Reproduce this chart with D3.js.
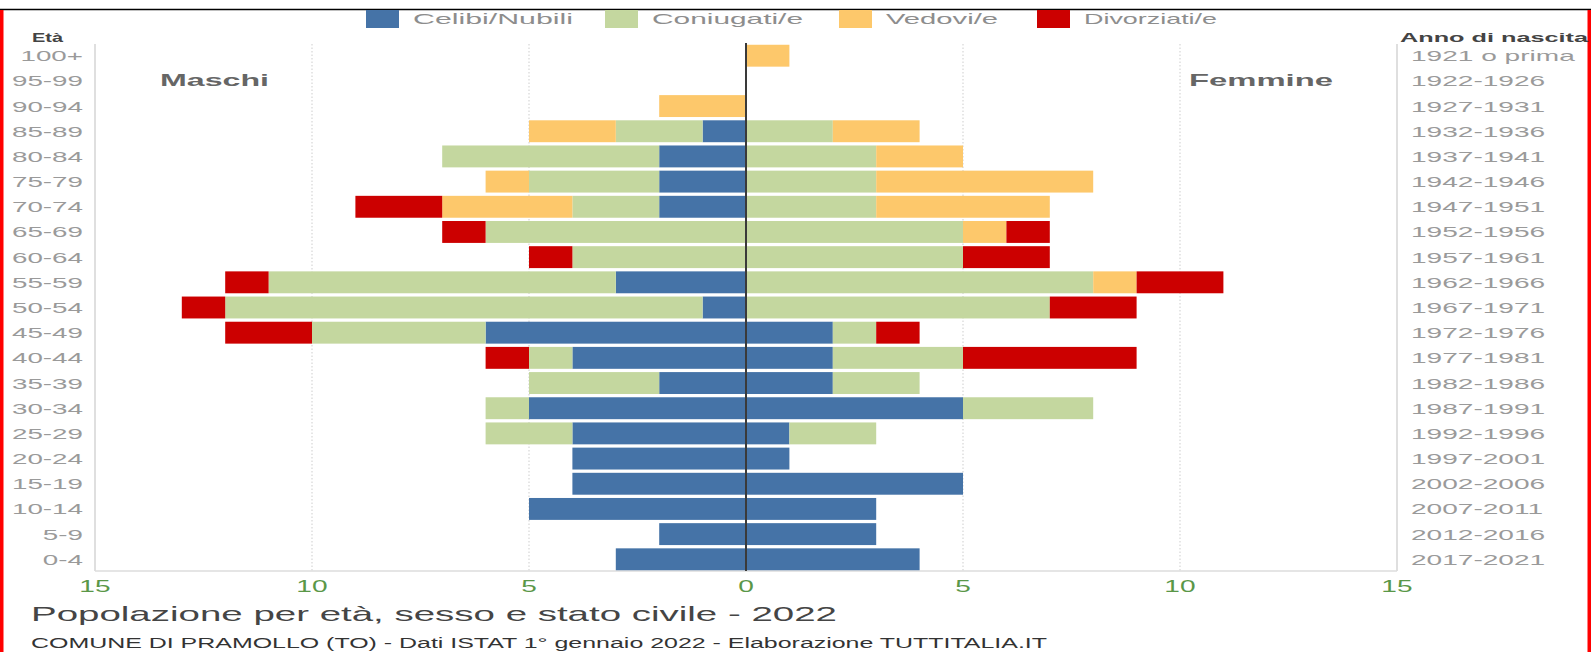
<!DOCTYPE html>
<html>
<head>
<meta charset="utf-8">
<script src="https://cdn.jsdelivr.net/npm/d3@7"></script>
<style>
  html, body { margin: 0; padding: 0; background: #fff; }
  svg { display: block; font-family: "Liberation Sans", Arial, sans-serif; }
</style>
</head>
<body>
<svg id="chart" width="1591" height="652"></svg>
<script>
// classi di età, dall'alto verso il basso
let ages = ['100+', '95-99', '90-94', '85-89', '80-84', '75-79', '70-74', '65-69', '60-64', '55-59', '50-54',
    '45-49', '40-44', '35-39', '30-34', '25-29', '20-24', '15-19', '10-14', '5-9', '0-4'];
let years = ['1921 o prima', '1922-1926', '1927-1931', '1932-1936', '1937-1941', '1942-1946', '1947-1951',
    '1952-1956', '1957-1961', '1962-1966', '1967-1971', '1972-1976', '1977-1981', '1982-1986', '1987-1991',
    '1992-1996', '1997-2001', '2002-2006', '2007-2011', '2012-2016', '2017-2021'];

// maschi
let m_celibi     = [0, 0, 0, 1, 2, 2, 2, 0, 0, 3, 1, 6, 4, 2, 5, 4, 4, 4, 5, 2, 3];
let m_coniugati  = [0, 0, 0, 2, 5, 3, 2, 6, 4, 8, 11, 4, 1, 3, 1, 2, 0, 0, 0, 0, 0];
let m_vedovi     = [0, 0, 2, 2, 0, 1, 3, 0, 0, 0, 0, 0, 0, 0, 0, 0, 0, 0, 0, 0, 0];
let m_divorziati = [0, 0, 0, 0, 0, 0, 2, 1, 1, 1, 1, 2, 1, 0, 0, 0, 0, 0, 0, 0, 0];
// femmine
let f_nubili     = [0, 0, 0, 0, 0, 0, 0, 0, 0, 0, 0, 2, 2, 2, 5, 1, 1, 5, 3, 3, 4];
let f_coniugate  = [0, 0, 0, 2, 3, 3, 3, 5, 5, 8, 7, 1, 3, 2, 3, 2, 0, 0, 0, 0, 0];
let f_vedove     = [1, 0, 0, 2, 2, 5, 4, 1, 0, 1, 0, 0, 0, 0, 0, 0, 0, 0, 0, 0, 0];
let f_divorziate = [0, 0, 0, 0, 0, 0, 0, 1, 2, 2, 2, 1, 4, 0, 0, 0, 0, 0, 0, 0, 0];

let legend_labels = ['Celibi/Nubili', 'Coniugati/e', 'Vedovi/e', 'Divorziati/e'];
let colors = ['#4573a7', '#c4d79f', '#fdc86b', '#cc0000'];
let x_ticks = [-15, -10, -5, 0, 5, 10, 15];

let svg = d3.select('#chart');

// il grafico originale è stirato in orizzontale: allargo i testi
function stretch(sel, f) {
    sel.each(function () {
        let w = this.getComputedTextLength();
        d3.select(this).attr('textLength', w * f).attr('lengthAdjust', 'spacingAndGlyphs');
    });
}
function fitWidth(sel, w) {
    sel.attr('textLength', w).attr('lengthAdjust', 'spacingAndGlyphs');
}

let plot_top = 44, plot_bottom = 571;
let x = d3.scaleLinear().domain([-15, 15]).range([95, 1397]);
let y = d3.scaleBand().domain(ages).range([plot_top, plot_bottom]).paddingInner(0.13).paddingOuter(0.03);

// cornice
svg.append('line').attr('x1', 0).attr('x2', 1591).attr('y1', 9.5).attr('y2', 9.5)
    .attr('stroke', '#000').attr('stroke-width', 1.5);
svg.append('rect').attr('x', 0).attr('y', 10).attr('width', 3.5).attr('height', 642).attr('fill', '#ff0000');
svg.append('rect').attr('x', 1587.5).attr('y', 10).attr('width', 3.5).attr('height', 642).attr('fill', '#ff0000');

// griglia
svg.append('g').selectAll('line')
    .data(x_ticks.filter(d => Math.abs(d) != 15 && d != 0))
    .enter().append('line')
    .attr('x1', d => x(d)).attr('x2', d => x(d))
    .attr('y1', plot_top).attr('y2', plot_bottom)
    .attr('stroke', '#d6d6d6').attr('stroke-width', 1.2).attr('stroke-dasharray', '1.5,2');
svg.append('g').selectAll('line')
    .data([-15, 15])
    .enter().append('line')
    .attr('x1', d => x(d)).attr('x2', d => x(d))
    .attr('y1', plot_top).attr('y2', plot_bottom)
    .attr('stroke', '#d4d4d4').attr('stroke-width', 1.5);
svg.append('line').attr('x1', x(-15)).attr('x2', x(15)).attr('y1', plot_bottom).attr('y2', plot_bottom)
    .attr('stroke', '#dcdcdc').attr('stroke-width', 1.5);

// barre
let rows = ages.map((a, i) => ({
    age: a,
    m0: m_celibi[i], m1: m_coniugati[i], m2: m_vedovi[i], m3: m_divorziati[i],
    f0: f_nubili[i], f1: f_coniugate[i], f2: f_vedove[i], f3: f_divorziate[i]
}));
let m_stack = d3.stack().keys(['m0', 'm1', 'm2', 'm3'])(rows);
let f_stack = d3.stack().keys(['f0', 'f1', 'f2', 'f3'])(rows);

[m_stack, f_stack].forEach((stack, side) => {
    let sign = side == 0 ? -1 : 1;
    svg.append('g')
        .selectAll('g')
        .data(stack)
        .enter().append('g')
        .attr('fill', (d, i) => colors[i])
        .selectAll('rect')
        .data(d => d.filter(p => p[1] > p[0]))
        .enter().append('rect')
        .attr('x', d => Math.min(x(sign * d[0]), x(sign * d[1])))
        .attr('width', d => Math.abs(x(sign * d[1]) - x(sign * d[0])))
        .attr('y', d => y(d.data.age))
        .attr('height', y.bandwidth());
});

// asse centrale
svg.append('line').attr('x1', x(0)).attr('x2', x(0)).attr('y1', plot_top - 1).attr('y2', plot_bottom)
    .attr('stroke', '#3a3a3a').attr('stroke-width', 2);

// etichette età e anni
let ageLab = svg.append('g').selectAll('text')
    .data(ages).enter().append('text')
    .attr('x', 83).attr('y', d => y(d) + y.bandwidth() / 2 + 5.5)
    .attr('text-anchor', 'end')
    .attr('font-size', 15).attr('fill', '#9a9a9a')
    .text(d => d);
stretch(ageLab, 1.85);

let yearLab = svg.append('g').selectAll('text')
    .data(years).enter().append('text')
    .attr('x', 1411).attr('y', (d, i) => y(ages[i]) + y.bandwidth() / 2 + 5.5)
    .attr('font-size', 15).attr('fill', '#9a9a9a')
    .text(d => d);
stretch(yearLab, 1.87);

let eta = svg.append('text').attr('x', 32).attr('y', 42)
    .attr('font-size', 13).attr('font-weight', 'bold').attr('fill', '#444').text('Età');
fitWidth(eta, 31);
let anno = svg.append('text').attr('x', 1400).attr('y', 42)
    .attr('font-size', 13).attr('font-weight', 'bold').attr('fill', '#444').text('Anno di nascita');
fitWidth(anno, 188);

// Maschi / Femmine
fitWidth(svg.append('text').attr('x', 160).attr('y', 86)
    .attr('font-size', 17).attr('font-weight', 'bold').attr('fill', '#666').text('Maschi'), 109);
fitWidth(svg.append('text').attr('x', 1189).attr('y', 86)
    .attr('font-size', 17).attr('font-weight', 'bold').attr('fill', '#666').text('Femmine'), 144);

// asse x
let xTick = svg.append('g').selectAll('text')
    .data(x_ticks).enter().append('text')
    .attr('x', d => x(d)).attr('y', plot_bottom + 21)
    .attr('text-anchor', 'middle')
    .attr('font-size', 17).attr('fill', '#5a9748')
    .text(d => Math.abs(d));
stretch(xTick, 1.65);

// legenda
let legend_x = [366, 605, 839, 1037];
let legend_w = [160, 151, 112, 133];
let legend = svg.append('g').selectAll('g')
    .data(legend_labels).enter().append('g');
legend.append('rect')
    .attr('x', (d, i) => legend_x[i]).attr('y', 10)
    .attr('width', 33).attr('height', 18)
    .attr('fill', (d, i) => colors[i]);
legend.append('text')
    .attr('x', (d, i) => legend_x[i] + 47).attr('y', 24)
    .attr('font-size', 15).attr('fill', '#8d8d8d')
    .text(d => d)
    .each(function (d, i) { fitWidth(d3.select(this), legend_w[i]); });

// titoli
fitWidth(svg.append('text').attr('x', 31).attr('y', 621)
    .attr('font-size', 21).attr('fill', '#454545')
    .text('Popolazione per età, sesso e stato civile - 2022'), 806);
fitWidth(svg.append('text').attr('x', 31).attr('y', 648)
    .attr('font-size', 14).attr('fill', '#333')
    .text('COMUNE DI PRAMOLLO (TO) - Dati ISTAT 1° gennaio 2022 - Elaborazione TUTTITALIA.IT'), 1016);
</script>
</body>
</html>
